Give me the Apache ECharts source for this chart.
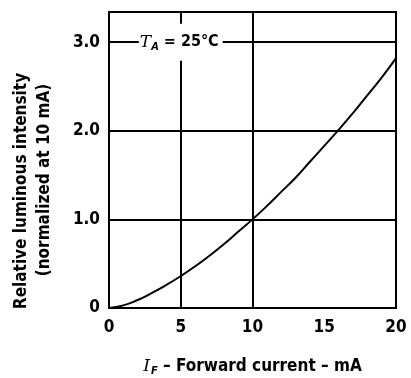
<!DOCTYPE html>
<html>
<head>
<meta charset="utf-8">
<script src="https://cdn.jsdelivr.net/npm/echarts@6/dist/echarts.min.js"></script>
<style>
html,body{margin:0;padding:0;background:#fff;}
#chart{width:411px;height:378px;}
</style>
</head>
<body>
<div id="chart"></div>
<script>
// Forward current (mA)
const currents = [0, 1, 2, 3, 4, 5, 6, 7, 8, 9, 10, 11, 12, 13, 14, 15, 16, 17, 18, 19, 20];
// Relative luminous intensity (normalized at 10 mA)
const intensity = [0, 0.03, 0.09, 0.17, 0.26, 0.36, 0.47, 0.59, 0.72, 0.86, 1.0, 1.15, 1.31, 1.47, 1.65, 1.83, 2.01, 2.2, 2.4, 2.6, 2.82];
const xTicks = [0, 5, 10, 15, 20];
const yTicks = [0, 1, 2, 3];
const gridXLines = [5, 10];
const annotation = { x: 5, y: 3, temp: '25°C' };

const font = 'DejaVu Sans Condensed';
const chart = echarts.init(document.getElementById('chart'), null, { renderer: 'canvas' });

chart.setOption({
  animation: false,
  backgroundColor: '#fff',
  grid: { left: 109, right: 15, top: 12, bottom: 70, containLabel: false, outerBoundsMode: 'none', show: true, borderColor: '#000', borderWidth: 2, backgroundColor: 'transparent' },
  xAxis: {
    type: 'value', min: xTicks[0], max: xTicks[xTicks.length - 1], interval: 5,
    axisLine: { show: false }, axisTick: { show: false }, splitLine: { show: false },
    axisLabel: { color: '#000', fontSize: 17, fontWeight: 'bold', fontFamily: font, margin: 11 },
    name: '{i|I}{s|F}{n| – Forward current – mA}',
    nameLocation: 'middle', nameGap: 49,
    nameTextStyle: {
      rich: {
        i: { fontSize: 17, fontStyle: 'italic', fontFamily: 'DejaVu Serif', color: '#000' },
        s: { fontSize: 11, fontStyle: 'italic', fontWeight: 'bold', fontFamily: font, color: '#000', padding: [9, 0, 0, 1] },
        n: { fontSize: 17, fontWeight: 'bold', fontFamily: font, color: '#000' }
      }
    }
  },
  yAxis: {
    type: 'value', min: 0, max: 3.34, interval: 1,
    axisLine: { show: false }, axisTick: { show: false },
    splitLine: { show: true, lineStyle: { color: '#000', width: 2 } },
    axisLabel: {
      color: '#000', fontSize: 17, fontWeight: 'bold', fontFamily: font, margin: 9, showMaxLabel: false,
      formatter: v => (v === 0 ? '0' : v.toFixed(1))
    },
    name: '{a|Relative luminous intensity}\n{b|(normalized at 10 mA)}',
    nameLocation: 'middle', nameRotate: 90, nameGap: 53,
    nameTextStyle: {
      rich: {
        a: { fontSize: 17, fontWeight: 'bold', fontFamily: font, color: '#000', lineHeight: 23, padding: [0, 62, 0, 0] },
        b: { fontSize: 17, fontWeight: 'bold', fontFamily: font, color: '#000', lineHeight: 23, padding: [0, 40, 0, 0] }
      }
    }
  },
  series: [{
    type: 'line',
    data: currents.map((c, i) => [c, intensity[i]]),
    smooth: true,
    showSymbol: false,
    lineStyle: { color: '#000', width: 2 },
    markLine: {
      silent: true, symbol: 'none',
      lineStyle: { color: '#000', width: 2, type: 'solid' },
      label: { show: false },
      data: gridXLines.map(v => ({ xAxis: v }))
    },
    markPoint: {
      symbol: 'rect', symbolSize: 1,
      itemStyle: { color: 'rgba(0,0,0,0)' },
      label: {
        show: true, position: 'inside',
        backgroundColor: '#fff', padding: [8, 4, 8, 1],
        formatter: '{t|T}{a|A}{r| = ' + annotation.temp + '}',
        rich: {
          t: { fontSize: 17, fontStyle: 'italic', fontFamily: 'DejaVu Serif', color: '#000' },
          a: { fontSize: 11, fontStyle: 'italic', fontWeight: 'bold', fontFamily: font, color: '#000', padding: [10, 0, 0, 0] },
          r: { fontSize: 16, fontWeight: 'bold', fontFamily: font, color: '#000' }
        }
      },
      data: [{ coord: [annotation.x, annotation.y] }]
    }
  }]
});
</script>
</body>
</html>
